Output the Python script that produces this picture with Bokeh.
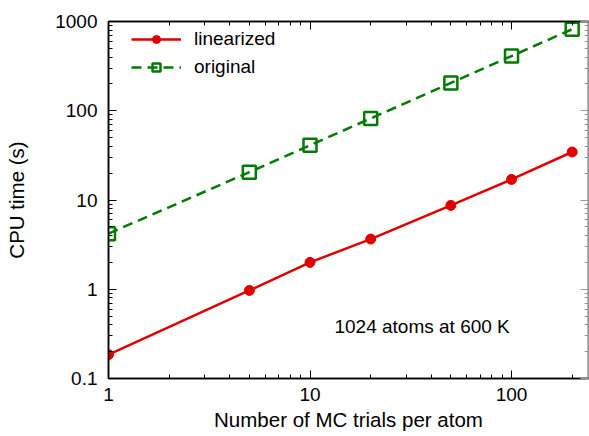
from bokeh.plotting import figure
from bokeh.models import LogAxis, FixedTicker, Legend, LegendItem, Label
from bokeh.embed import file_html
from bokeh.resources import INLINE

trials = [1, 5, 10, 20, 50, 100, 200]
linearized = [0.185, 0.97, 2.0, 3.65, 8.7, 17.0, 34.5]
original = [4.2, 20.5, 41.0, 82.0, 205.0, 410.0, 820.0]

x_ticks = [1, 10, 100]
x_labels = ["1", "10", "100"]
y_ticks = [0.1, 1, 10, 100, 1000]
y_labels = ["0.1", "1", "10", "100", "1000"]

FONT = "Liberation Sans"
FS = "19px"
FS_AX = "20.5px"
RED = "#e00000"
GREEN = "#007a00"

p = figure(width=589, height=436, x_axis_type="log", y_axis_type="log",
           x_range=(1, 241), y_range=(0.1, 1000),
           output_backend="svg", toolbar_location=None,
           min_border_left=108, min_border_right=1, min_border_top=21, min_border_bottom=58)
p.grid.visible = False
p.outline_line_color = "black"
p.outline_line_width = 1.5

x_minor = [m * d for d in (1, 10) for m in range(2, 10)] + [200]
y_minor = [m * d for d in (0.1, 1, 10, 100) for m in range(2, 10)]

def style(ax, ticks, minor, labels, show):
    ax.ticker = FixedTicker(ticks=ticks, minor_ticks=minor)
    ax.major_tick_in = 8
    ax.major_tick_out = 0
    ax.minor_tick_in = 4
    ax.minor_tick_out = 0
    ax.axis_line_color = "black"
    ax.axis_line_width = 1.5
    ax.major_tick_line_width = 1
    ax.minor_tick_line_width = 1
    if show:
        ax.major_label_overrides = {t: l for t, l in zip(ticks, labels)}
        ax.major_label_text_font = FONT
        ax.major_label_text_font_size = FS
        ax.major_label_text_color = "black"
        ax.axis_label_text_font = FONT
        ax.axis_label_text_font_size = FS_AX
        ax.axis_label_text_font_style = "normal"
        ax.axis_label_text_color = "black"
    else:
        ax.major_label_text_font_size = "1px"
        ax.major_label_text_alpha = 0
        ax.major_label_standoff = 0

style(p.xaxis[0], x_ticks, x_minor, x_labels, True)
style(p.yaxis[0], y_ticks, y_minor, y_labels, True)
p.xaxis[0].axis_label = "Number of MC trials per atom"
p.yaxis[0].axis_label = "CPU time (s)"
p.xaxis[0].major_label_standoff = 9
p.yaxis[0].major_label_standoff = 11
p.xaxis[0].axis_label_standoff = 4
p.yaxis[0].axis_label_standoff = 24

top = LogAxis()
style(top, x_ticks, x_minor, x_labels, False)
p.add_layout(top, "above")
right = LogAxis()
style(right, y_ticks, y_minor, y_labels, False)
right.axis_line_color = "#999999"
right.major_tick_line_color = "#999999"
right.minor_tick_line_color = "#999999"
p.add_layout(right, "right")

l1 = p.line(trials, linearized, line_color=RED, line_width=2.5)
c1 = p.scatter(trials, linearized, marker="circle", size=10, fill_color=RED, line_color=RED)
l2 = p.line(trials, original, line_color=GREEN, line_width=2.5, line_dash="10 6")
s2 = p.scatter(trials, original, marker="square", size=13, fill_color=None,
               line_color=GREEN, line_width=2.5)

legend = Legend(items=[LegendItem(label="linearized", renderers=[l1, c1]),
                       LegendItem(label="original", renderers=[l2, s2])],
                location=(23, 300))
legend.background_fill_alpha = 0
legend.border_line_color = None
legend.padding = 0
legend.margin = 0
legend.spacing = 6
legend.glyph_width = 50
legend.glyph_height = 20
legend.label_height = 20
legend.label_standoff = 13
legend.label_text_font = FONT
legend.label_text_font_size = FS
legend.label_text_color = "black"
p.add_layout(legend)

p.add_layout(Label(x=36, y=0.385, text="1024 atoms at 600 K",
                   text_font=FONT, text_font_size=FS, text_color="black",
                   text_align="center", text_baseline="middle"))

open("out.html", "w").write(file_html(p, INLINE))
